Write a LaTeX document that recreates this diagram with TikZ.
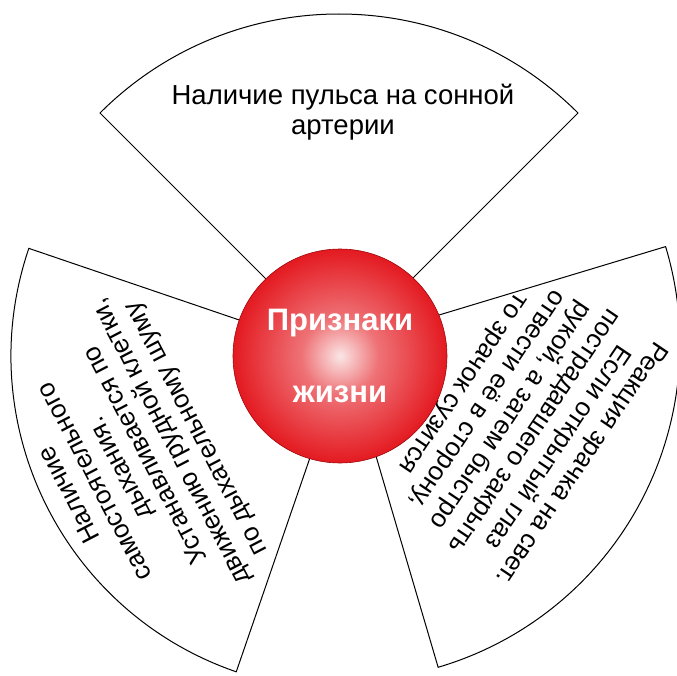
\documentclass[tikz,border=0pt]{standalone}
\usepackage{fontspec}
\setmainfont{Liberation Sans}
\usetikzlibrary{positioning}
\definecolor{ballcore}{HTML}{FBE6E6}
\definecolor{ballpink}{HTML}{EE7276}
\definecolor{ballred}{HTML}{E3141B}
\definecolor{balldeep}{HTML}{CC0E14}
\definecolor{balledge}{HTML}{9E070C}
\pgfdeclareradialshading{redsphere}{\pgfpoint{0bp}{0bp}}{%
  color(0bp)=(ballcore); color(9bp)=(ballpink); color(26bp)=(ballred);
  color(45bp)=(balldeep); color(50bp)=(balledge)}

\begin{document}
\begin{tikzpicture}[
  x=1pt, y=1pt,
  sector/.style={draw=black, fill=white, line width=1pt},
  sectortext/.style={font=\fontsize{26}{28.5}\selectfont, align=center, text=black, inner sep=0pt}
]
  \useasboundingbox (-341,-323) rectangle (336,352);

  % Top sector
  \draw[sector, shift={(-2,0)}] (45:90) -- (45:338) arc[start angle=45, end angle=135, radius=338] -- (135:90) -- cycle;
  \node[sectortext, font=\fontsize{27.5}{30}\selectfont] (pulse) at (2,240) {Наличие пульса на сонной\\артерии};

  % Left sector
  \draw[sector, shift={(4,-4)}] (161.2:90) -- (161.2:334) arc[start angle=161.2, end angle=251, radius=334] -- (251:90) -- cycle;
  \node[sectortext, rotate=117.5] (breath) at (207.8:234) {Наличие\\самостоятельного\\дыхания.\\Устанавливается по\\движению грудной клетки,\\по дыхательному шуму};

  % Right sector
  \draw[sector, shift={(2,8)}] (-73.6:90) -- (-73.6:337) arc[start angle=-73.6, end angle=16.8, radius=337] -- (16.8:90) -- cycle;
  \node[sectortext, rotate=-124] (pupil) at (-21.4:194) {Реакция зрачка на свет.\\Если открытый глаз\\пострадавшего закрыть\\рукой, а затем быстро\\отвести её в сторону,\\то зрачок сузится};

  % Central sphere
  \node[circle, minimum size=214pt, inner sep=0pt, shading=redsphere, draw=balledge, line width=0.6pt] (core) at (-1,-4) {};
  \node[font=\bfseries\fontsize{31}{36}\selectfont, text=white, align=center] (corelabel) at (core) {Признаки\\[36pt]жизни};

\end{tikzpicture}
\end{document}
